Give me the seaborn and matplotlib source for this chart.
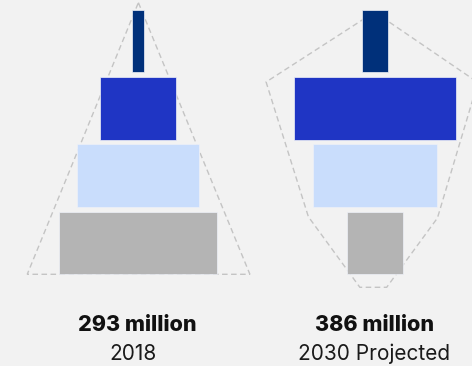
import matplotlib
matplotlib.use("Agg")
import matplotlib.pyplot as plt
from matplotlib.patches import Polygon
import seaborn as sns
import pandas as pd

# Share of population in each tier (percent), top tier first
tiers = ["Top", "Upper", "Middle", "Base"]
share_2018 = [3.1, 20.9, 33.0, 43.0]
share_2030 = [7.0, 44.2, 33.9, 15.0]
totals = ["293 million", "386 million"]
years = ["2018", "2030 Projected"]
tier_colors = ["#00307a", "#1f35c4", "#c9ddfc", "#b4b4b4"]

# Dashed envelopes around each pyramid: (offset from centre in %, tier position)
envelope_2018 = [(0.1, -0.57), (30.4, 3.465), (-30.1, 3.465)]
envelope_2030 = [(-0.1, -0.43), (28.0, 0.616), (17.0, 2.629), (3.2, 3.658),
                 (-4.1, 3.658), (-18.1, 2.610), (-29.6, 0.609)]

df = pd.DataFrame({
    "tier": tiers * 2,
    "share": share_2018 + share_2030,
    "year": [years[0]] * 4 + [years[1]] * 4,
})

sns.set_theme(style="white")
plt.rcParams["font.family"] = ["Inter", "DejaVu Sans"]

bg = "#f2f2f2"
fig = plt.figure(figsize=(4.72, 3.66), dpi=100, facecolor=bg)
ax_l = fig.add_axes([0, 0, 258 / 472, 1])
ax_r = fig.add_axes([258 / 472, 0, 214 / 472, 1])

panels = [
    (ax_l, years[0], totals[0], envelope_2018, (-37.5, 32.6), (-0.27, -1.44)),
    (ax_r, years[1], totals[1], envelope_2030, (-31.8, 26.4), (0.0, -0.2)),
]

for ax, year, total, env, xlim, text_dx in panels:
    sub = df[df["year"] == year]
    sns.barplot(data=sub, x="share", y="tier", hue="tier", palette=tier_colors,
                saturation=1, orient="h", width=0.93, legend=False, ax=ax,
                edgecolor="#eef1f8", linewidth=0.5)
    # centre every bar on the pyramid axis
    for p in ax.patches:
        p.set_x(-p.get_width() / 2)

    ax.add_patch(Polygon(env, closed=True, fill=False, edgecolor="#c4c4c4",
                         linewidth=1.0, linestyle=(0, (4, 2.5)), zorder=0.5,
                         clip_on=False))

    ax.text(text_dx[0], 4.307, total, ha="center", va="baseline",
            fontsize=15.5, fontweight="heavy", color="#111111")
    ax.text(text_dx[1], 4.738, year, ha="center", va="baseline",
            fontsize=15, color="#1a1a1a")

    ax.set_xlim(*xlim)
    ax.set_ylim(4.827, -0.609)
    ax.set_facecolor("none")
    ax.axis("off")

fig.savefig("out.png", dpi=100, facecolor=bg)
